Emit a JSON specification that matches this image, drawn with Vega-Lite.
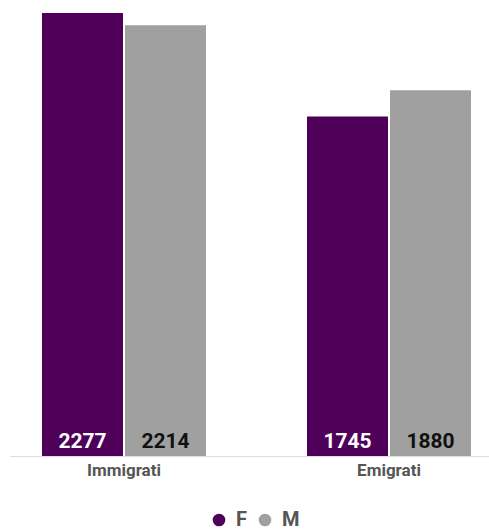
{
  "$schema": "https://vega.github.io/schema/vega-lite/v6.json",
  "autosize": "none",
  "width": 479,
  "height": 443,
  "padding": {"left": 10, "top": 13, "right": 0, "bottom": 74},
  "config": {"font": "Roboto", "view": {"stroke": null}},
  "data": {"values": [
    {"group": "Immigrati", "sex": "F", "value": 2277},
    {"group": "Immigrati", "sex": "M", "value": 2214},
    {"group": "Emigrati", "sex": "F", "value": 1745},
    {"group": "Emigrati", "sex": "M", "value": 1880}
  ]},
  "encoding": {
    "x": {"field": "group", "type": "nominal", "sort": ["Immigrati", "Emigrati"],
      "scale": {"paddingInner": 0.3811, "paddingOuter": 0.0943, "align": 0.64},
      "axis": {"title": null, "labelAngle": 0, "ticks": false, "domainColor": "#dddddd", "labelFont": "Roboto", "labelFontSize": 17, "labelFontWeight": "bold", "labelColor": "#555555", "labelPadding": 6}},
    "xOffset": {"field": "sex", "type": "nominal", "scale": {"paddingInner": 0.0241, "paddingOuter": 0}}
  },
  "layer": [
    {
      "mark": {"type": "bar"},
      "encoding": {
        "y": {"field": "value", "type": "quantitative", "scale": {"domain": [0, 2277], "nice": false, "zero": true}, "axis": null},
        "color": {"field": "sex", "type": "nominal", "scale": {"domain": ["F", "M"], "range": ["#4f0059", "#a0a0a0"]},
          "legend": {"title": null, "orient": "none", "legendX": 199, "legendY": 497, "direction": "horizontal", "symbolType": "circle", "symbolSize": 160, "symbolOpacity": 1, "labelFont": "Roboto", "labelFontSize": 20, "labelFontWeight": "bold", "labelColor": "#555555", "columnPadding": 8, "labelOffset": 7}}
      }
    },
    {
      "mark": {"type": "text", "baseline": "alphabetic", "dy": -8, "fontSize": 21, "fontWeight": "bold", "font": "Roboto"},
      "encoding": {
        "y": {"datum": 0, "type": "quantitative"},
        "text": {"field": "value", "type": "quantitative", "format": "d"},
        "color": {"condition": {"test": "datum.sex === 'F'", "value": "#ffffff"}, "value": "#111111"}
      }
    }
  ]
}
